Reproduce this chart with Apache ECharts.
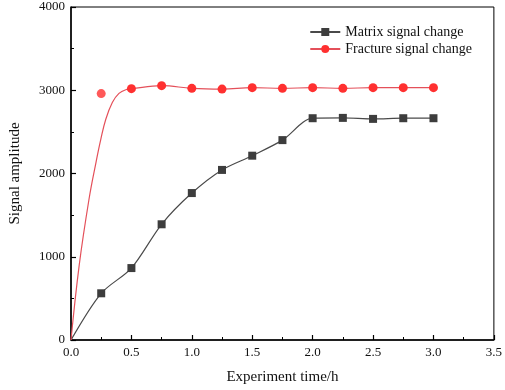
<!DOCTYPE html>
<html>
<head>
<meta charset="utf-8">
<script src="https://cdn.jsdelivr.net/npm/echarts@6/dist/echarts.min.js"></script>
<style>
  html, body { margin: 0; padding: 0; background: #fff; }
  #main { width: 505px; height: 390px; }
</style>
</head>
<body>
<div id="main"></div>
<script>
// measured points (h)
var timeH = [0.25, 0.5, 0.75, 1.0, 1.25, 1.5, 1.75, 2.0, 2.25, 2.5, 2.75, 3.0]
var matrixSignal = [561, 864, 1390, 1765, 2043, 2214, 2401, 2664, 2668, 2656, 2664, 2664]
var fractureSignal = [2960, 3019, 3055, 3023, 3014, 3031, 3023, 3031, 3023, 3031, 3031, 3031]
// fitted rise of the fracture curve (before 0.5 h)
var fractureFitX = [0, 0.068, 0.15, 0.207, 0.247, 0.288, 0.342, 0.397, 0.464]
var fractureFitY = [0, 900, 1700, 2135, 2413, 2652, 2852, 2963, 3012]

var serif = 'Liberation Serif'

// matrix: starts from origin, no marker there
var matrixData = [{ value: [0, 0], symbol: 'none' }]
timeH.forEach(function (t, i) { matrixData.push([t, matrixSignal[i]]) })

// fracture curve: fit points without marker, then measured points from 0.5 h
var fractureLine = []
fractureFitX.forEach(function (t, i) {
  fractureLine.push({ value: [t, fractureFitY[i]], symbol: 'none' })
})
timeH.forEach(function (t, i) {
  if (i > 0) fractureLine.push([t, fractureSignal[i]])
})
// first measured point sits off the fitted curve
var fractureOff = [[timeH[0], fractureSignal[0]]]

var chart = echarts.init(document.getElementById('main'))
var option = {
  animation: false,
  grid: {
    left: 63, right: 10, top: 7, bottom: 48,
    show: true, borderColor: '#000', borderWidth: 1
  },
  legend: {
    orient: 'vertical',
    top: 20,
    right: 28,
    itemGap: 3,
    itemWidth: 30,
    itemHeight: 10,
    data: ['Matrix signal change', 'Fracture signal change'],
    textStyle: { fontFamily: serif, fontSize: 14, color: '#111' }
  },
  xAxis: {
    type: 'value',
    min: 0, max: 3.5, interval: 0.5,
    name: 'Experiment time/h',
    nameLocation: 'middle',
    nameGap: 30,
    nameTextStyle: { fontFamily: serif, fontSize: 15, color: '#111' },
    axisLine: { lineStyle: { color: '#000', width: 1.5 } },
    axisTick: { inside: true, length: 5, lineStyle: { color: '#000', width: 1.2 } },
    minorTick: { show: true, splitNumber: 2, length: 3, lineStyle: { color: '#000' } },
    axisLabel: {
      fontFamily: serif, fontSize: 13, color: '#111', margin: 6,
      formatter: function (v) { return v.toFixed(1) }
    },
    splitLine: { show: false }
  },
  yAxis: {
    type: 'value',
    min: 0, max: 4000, interval: 1000,
    name: 'Signal amplitude',
    nameLocation: 'middle',
    nameGap: 48,
    nameTextStyle: { fontFamily: serif, fontSize: 15, color: '#111' },
    axisLine: { show: true, lineStyle: { color: '#000', width: 1.5 } },
    axisTick: { inside: true, length: 5, lineStyle: { color: '#000', width: 1.2 } },
    minorTick: { show: true, splitNumber: 2, length: 3, lineStyle: { color: '#000' } },
    axisLabel: {
      fontFamily: serif, fontSize: 13, color: '#111', margin: 6,
      formatter: function (v) { return String(v) }
    },
    splitLine: { show: false }
  },
  series: [
    {
      name: 'Matrix signal change',
      type: 'line',
      smooth: 0.3,
      data: matrixData,
      symbol: 'rect',
      symbolSize: 8,
      itemStyle: { color: '#3d3d3d' },
      lineStyle: { color: '#4a4a4a', width: 1.2 }
    },
    {
      name: 'Fracture signal change',
      type: 'line',
      smooth: 0.4,
      data: fractureLine,
      symbol: 'circle',
      symbolSize: 9,
      itemStyle: { color: '#ff3030' },
      lineStyle: { color: '#e4505a', width: 1.2 }
    },
    {
      name: 'Fracture signal change',
      type: 'scatter',
      data: fractureOff,
      symbol: 'circle',
      symbolSize: 9,
      itemStyle: { color: '#ff3030' }
    }
  ]
}
chart.setOption(option)
</script>
</body>
</html>
